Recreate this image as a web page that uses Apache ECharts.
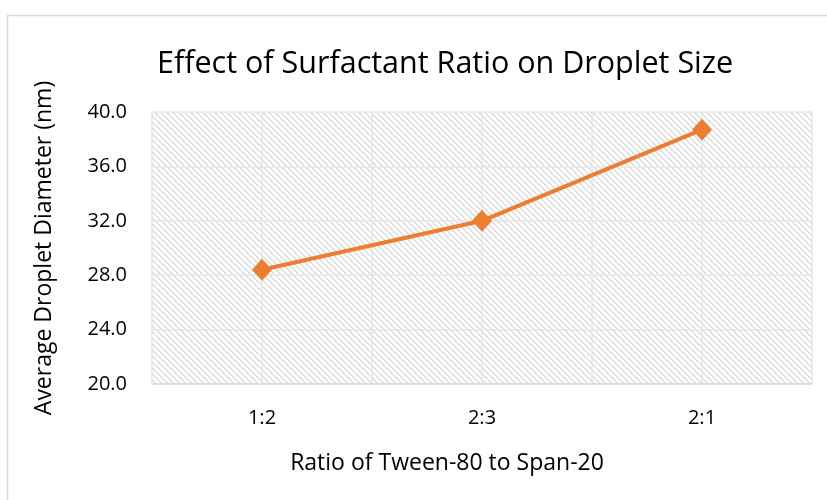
<!DOCTYPE html>
<html><head><meta charset="utf-8">
<script src="https://cdn.jsdelivr.net/npm/echarts@6/dist/echarts.min.js"></script>
<style>html,body{margin:0;padding:0;background:#fff}#c{width:827px;height:500px}</style>
</head><body><div id="c"></div>
<script>
const categories = ['1:2', '2:3', '2:1'];
const diameters = [28.4, 32.0, 38.7];
const yTicks = [20, 24, 28, 32, 36, 40];
const titleText = 'Effect of Surfactant Ratio on Droplet Size';
const xName = 'Ratio of Tween-80 to Span-20';
const yName = 'Average Droplet Diameter (nm)';

// hatch pattern tile
const tile = document.createElement('canvas');
tile.width = 6; tile.height = 6;
const tctx = tile.getContext('2d');
tctx.fillStyle = '#ffffff'; tctx.fillRect(0,0,6,6);
for (let y = 0; y < 6; y++) for (let x = 0; x < 6; x++) {
  const d = ((x - y) % 6 + 6) % 6;
  if (d === 0) { tctx.fillStyle = '#d6d6d6'; tctx.fillRect(x,y,1,1); }
  else if (d === 1) { tctx.fillStyle = '#e6e6e6'; tctx.fillRect(x,y,1,1); }
}

const chart = echarts.init(document.getElementById('c'), null, {renderer: 'canvas'});
const font = '"Open Sans", "Noto Sans", sans-serif';
chart.setOption({
  animation: false,
  backgroundColor: '#ffffff',
  graphic: [{type: 'rect', shape: {x: 7.5, y: 15.5, width: 840, height: 500}, style: {fill: 'none', stroke: '#d9d9d9', lineWidth: 1.5}, z: -1}],
  title: {text: titleText, left: 157, top: 49, textStyle: {fontFamily: font, fontSize: 30.5, fontWeight: 'normal', color: '#000'}, padding: 0},
  grid: {left: 152, right: 15, top: 112, bottom: 116, show: true, borderWidth: 0,
    backgroundColor: {image: tile, repeat: 'repeat'}},
  xAxis: [{
    type: 'category', data: categories, boundaryGap: true,
    axisLine: {lineStyle: {color: '#d9d9d9', width: 1.5}}, axisTick: {show: false},
    axisLabel: {fontFamily: font, fontSize: 20, color: '#000', margin: 24},
    splitLine: {show: false},
    name: xName, nameLocation: 'middle', nameGap: 68,
    nameTextStyle: {fontFamily: font, fontSize: 23, color: '#000', padding: [0, 70, 0, 0]}
  }, {
    type: 'value', min: 0, max: 6, interval: 1, position: 'top',
    axisLine: {show: false}, axisTick: {show: false}, axisLabel: {show: false},
    splitLine: {show: true, lineStyle: {color: '#e6e6e6', width: 1.5}}
  }],
  yAxis: {
    type: 'value', min: 20, max: 40, interval: 4,
    axisLine: {show: false}, axisTick: {show: false},
    axisLabel: {fontFamily: font, fontSize: 20, color: '#000', margin: 25, formatter: v => v.toFixed(1)},
    splitLine: {lineStyle: {color: '#e6e6e6', width: 1.5}},
    name: yName, nameLocation: 'middle', nameGap: 96, nameRotate: 90,
    nameTextStyle: {fontFamily: font, fontSize: 23, color: '#000'}
  },
  series: [{
    type: 'line', data: diameters, xAxisIndex: 0,
    symbol: 'diamond', symbolSize: [20, 22],
    lineStyle: {color: '#ED7D31', width: 4},
    itemStyle: {color: '#ED7D31'}
  }]
});
</script></body></html>
